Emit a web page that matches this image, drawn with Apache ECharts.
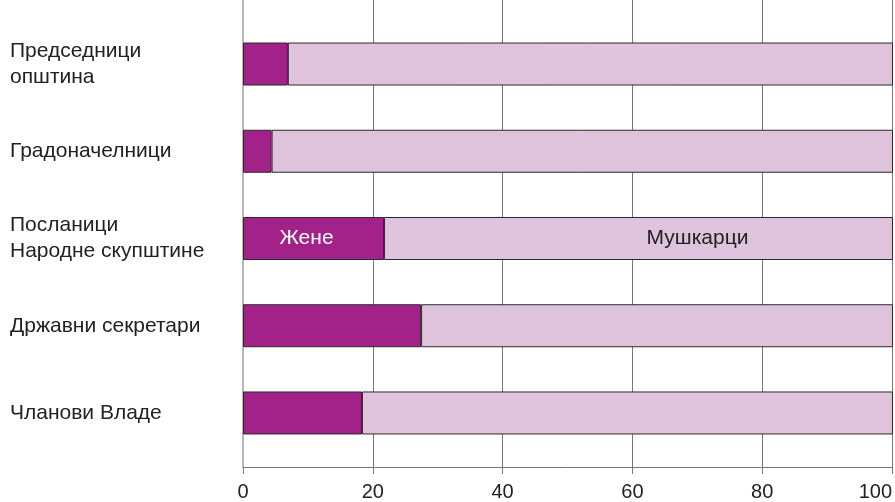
<!DOCTYPE html>
<html>
<head>
<meta charset="utf-8">
<script src="https://cdn.jsdelivr.net/npm/echarts@6/dist/echarts.min.js"></script>
<style>html,body{margin:0;padding:0;background:#fff}#c{width:895px;height:502px}</style>
</head>
<body>
<div id="c"></div>
<script>
const categories = ['Председници\nопштина', 'Градоначелници', 'Посланици\nНародне скупштине', 'Државни секретари', 'Чланови Владе'];
const women = [6.9, 4.4, 21.7, 27.4, 18.3];
const men = [93.1, 95.6, 78.3, 72.6, 81.7];
const xTicks = [0, 20, 40, 60, 80, 100];
const seriesNames = ['Жене', 'Мушкарци'];
const labelIndex = 2;

const font = "'Liberation Sans', Arial, sans-serif";
const chart = echarts.init(document.getElementById('c'));
chart.setOption({
  animation: false,
  backgroundColor: '#ffffff',
  grid: [
    { left: 243, right: 2, top: 0, bottom: 33 },
    { left: 243, right: 2, top: 20.4, bottom: 45.4 }
  ],
  xAxis: [
    {
      gridIndex: 0, type: 'value', min: xTicks[0], max: xTicks[xTicks.length - 1], interval: 20,
      axisLine: { show: true, lineStyle: { color: '#777', width: 1 } },
      axisTick: { show: true, length: 7, lineStyle: { color: '#777' } },
      splitLine: { show: true, lineStyle: { color: '#777', width: 1 } },
      axisLabel: { fontFamily: font, fontSize: 20, color: '#222', margin: 15, alignMaxLabel: 'right' }
    },
    {
      gridIndex: 1, type: 'value', min: 0, max: 100, show: false
    }
  ],
  yAxis: [
    {
      gridIndex: 0, type: 'value', min: 0, max: 1,
      axisLine: { show: true, lineStyle: { color: '#b8b8b8', width: 2 } },
      axisTick: { show: false }, axisLabel: { show: false }, splitLine: { show: false }
    },
    {
      gridIndex: 1, type: 'category', data: categories, inverse: true,
      axisLine: { show: false }, axisTick: { show: false },
      axisLabel: { fontFamily: font, fontSize: 21, color: '#222', align: 'left', margin: 233, lineHeight: 26 }
    }
  ],
  series: [
    {
      name: seriesNames[0], type: 'bar', stack: 's', xAxisIndex: 1, yAxisIndex: 1,
      barWidth: 43,
      itemStyle: { color: '#A3228A', borderColor: '#2a2a2a', borderWidth: 1 },
      data: women.map((v, i) => i === labelIndex ? {
        value: v,
        label: { show: true, position: 'inside', formatter: seriesNames[0], color: '#fff', fontFamily: font, fontSize: 21, offset: [-7, 0] }
      } : v)
    },
    {
      name: seriesNames[1], type: 'bar', stack: 's', xAxisIndex: 1, yAxisIndex: 1,
      barWidth: 43,
      itemStyle: { color: '#DFC3DC', borderColor: '#2a2a2a', borderWidth: 1 },
      data: men.map((v, i) => i === labelIndex ? {
        value: v,
        label: { show: true, position: 'inside', formatter: seriesNames[1], color: '#222', fontFamily: font, fontSize: 21, offset: [59, 0] }
      } : v)
    }
  ]
});
</script>
</body>
</html>
